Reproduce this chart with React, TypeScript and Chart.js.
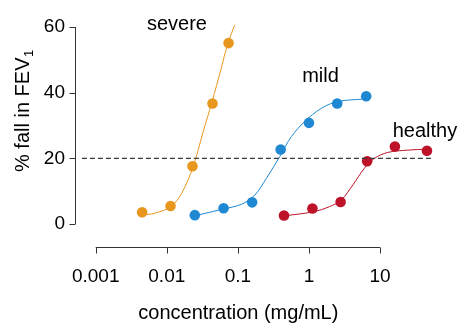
import React, { useEffect, useRef } from "react";
import { Chart, registerables } from "chart.js";

Chart.register(...registerables);

// ---- data ----
const xTicks = [0.001, 0.01, 0.1, 1, 10];
const yTicks = [0, 20, 40, 60];

const severeX = [0.0045, 0.0113, 0.023, 0.044, 0.074];
const severeY = [3.6, 5.5, 17.6, 36.7, 55.1];
const severeCurveX = [0.0045, 0.0068, 0.0114, 0.0161, 0.0235, 0.0324, 0.0434, 0.0575, 0.0728, 0.0904];
const severeCurveY = [2.7, 3.3, 5.3, 9.3, 17.5, 28.0, 37.3, 46.9, 55.2, 60.6];

const mildX = [0.0248, 0.063, 0.159, 0.4, 1.0, 2.5, 6.4];
const mildY = [2.7, 4.8, 6.6, 22.7, 30.8, 36.7, 38.9];
const mildCurveX = [0.0248, 0.0634, 0.112, 0.173, 0.252, 0.388, 0.566, 0.871, 1.49, 2.55, 6.4];
const mildCurveY = [2.5, 4.6, 6.0, 8.8, 13.9, 20.5, 26.6, 31.2, 35.2, 37.3, 38.1];

const healthyX = [0.446, 1.12, 2.79, 6.6, 16.2, 45.8];
const healthyY = [2.6, 4.7, 6.7, 19.1, 23.6, 22.3];
const healthyCurveX = [0.456, 1.14, 1.95, 2.85, 4.15, 6.05, 8.37, 12.9, 24.6, 46];
const healthyCurveY = [2.5, 3.7, 5.3, 7.3, 11.9, 17.0, 20.0, 21.8, 22.5, 22.8];

const thresholdX = [0.00064, 52];
const thresholdY = [20, 20];

const groupLabels = ["severe", "mild", "healthy"];
const groupLabelX = [0.0139, 1.455, 42.96];
const groupLabelY = [59.1, 43.3, 26.5];

const xTitle = "concentration (mg/mL)";
const yTitleMain = "% fall in FEV";
const yTitleSub = "1";

const ORANGE = "#E8971E";
const BLUE = "#1F88D3";
const RED = "#BD1228";
const FONT = "'Liberation Sans', Arial, Helvetica, sans-serif";

const zip = (xs: number[], ys: number[]) => xs.map((x, i) => ({ x, y: ys[i] }));

const axesPlugin = {
  id: "rAxes",
  afterDraw(chart: any) {
    const { ctx, chartArea, scales } = chart;
    const xs = scales.x;
    const ys = scales.y;
    ctx.save();
    ctx.strokeStyle = "#333";
    ctx.lineWidth = 1;
    // y axis
    const ax = Math.round(chartArea.left) + 0.5;
    const y0 = ys.getPixelForValue(yTicks[0]);
    const y1 = ys.getPixelForValue(yTicks[yTicks.length - 1]);
    ctx.beginPath();
    ctx.moveTo(ax, y0);
    ctx.lineTo(ax, y1);
    yTicks.forEach((v) => {
      const p = Math.round(ys.getPixelForValue(v)) + 0.5;
      ctx.moveTo(ax, p);
      ctx.lineTo(ax - 6, p);
    });
    // x axis
    const ay = Math.round(chartArea.bottom) + 0.5;
    const x0 = xs.getPixelForValue(xTicks[0]);
    const x1 = xs.getPixelForValue(xTicks[xTicks.length - 1]);
    ctx.moveTo(x0, ay);
    ctx.lineTo(x1, ay);
    xTicks.forEach((v) => {
      const p = Math.round(xs.getPixelForValue(v)) + 0.5;
      ctx.moveTo(p, ay);
      ctx.lineTo(p, ay + 6);
    });
    ctx.stroke();

    // group labels
    ctx.fillStyle = "#000";
    ctx.font = `20px ${FONT}`;
    ctx.textAlign = "center";
    ctx.textBaseline = "alphabetic";
    groupLabels.forEach((t, i) => {
      ctx.fillText(t, xs.getPixelForValue(groupLabelX[i]), ys.getPixelForValue(groupLabelY[i]));
    });

    // x title
    ctx.fillText(xTitle, (x0 + x1) / 2 + 0.5, 319);

    // y title with subscript
    ctx.save();
    ctx.translate(29, 172);
    ctx.rotate(-Math.PI / 2);
    ctx.textAlign = "left";
    ctx.font = `20px ${FONT}`;
    ctx.fillText(yTitleMain, 0, 0);
    const w = ctx.measureText(yTitleMain).width;
    ctx.font = `13px ${FONT}`;
    ctx.fillText(yTitleSub, w + 0.5, 4);
    ctx.restore();

    ctx.restore();
  },
};

export default function App() {
  const ref = useRef<HTMLCanvasElement | null>(null);

  useEffect(() => {
    document.body.style.margin = "0";
    if (!ref.current) return;
    const curve = (xs: number[], ys: number[], color: string) => ({
      type: "line" as const,
      data: zip(xs, ys),
      borderColor: color,
      borderWidth: 1,
      pointRadius: 0,
      fill: false,
      tension: 0.35,
      showLine: true,
    });
    const pts = (xs: number[], ys: number[], color: string) => ({
      type: "scatter" as const,
      data: zip(xs, ys),
      backgroundColor: color,
      borderColor: color,
      borderWidth: 0,
      pointRadius: 5.3,
      showLine: false,
    });
    const chart = new Chart(ref.current, {
      type: "scatter",
      data: {
        datasets: [
          {
            type: "line",
            data: zip(thresholdX, thresholdY),
            borderColor: "#3a3a3a",
            borderWidth: 1.2,
            borderDash: [5, 3],
            pointRadius: 0,
            fill: false,
          } as any,
          curve(severeCurveX, severeCurveY, ORANGE),
          curve(mildCurveX, mildCurveY, BLUE),
          curve(healthyCurveX, healthyCurveY, RED),
          pts(severeX, severeY, ORANGE),
          pts(mildX, mildY, BLUE),
          pts(healthyX, healthyY, RED),
        ] as any,
      },
      options: {
        animation: false,
        responsive: false,
        maintainAspectRatio: false,
        layout: { padding: { top: 10, right: 18, left: 0, bottom: 0 } },
        plugins: { legend: { display: false }, tooltip: { enabled: false } },
        scales: {
          x: {
            type: "logarithmic",
            min: 0.0005113,
            max: 69.87,
            grid: { display: false, drawTicks: false },
            border: { display: false },
            afterBuildTicks: (s: any) => {
              s.ticks = xTicks.map((v) => ({ value: v }));
            },
            afterFit: (s: any) => {
              s.height = 77;
              s.paddingLeft = 0;
              s.paddingRight = 0;
            },
            ticks: {
              autoSkip: false,
              maxRotation: 0,
              padding: 18,
              color: "#000",
              font: { family: FONT, size: 19 },
              callback: (v: any) => String(v),
            },
          },
          y: {
            type: "linear",
            min: -7.005,
            max: 65.178,
            grid: { display: false, drawTicks: false },
            border: { display: false },
            afterBuildTicks: (s: any) => {
              s.ticks = yTicks.map((v) => ({ value: v }));
            },
            afterFit: (s: any) => {
              s.width = 75;
              s.paddingTop = 0;
              s.paddingBottom = 0;
            },
            ticks: {
              padding: 10,
              color: "#000",
              font: { family: FONT, size: 19 },
              callback: (v: any) => String(v),
            },
          },
        },
      } as any,
      plugins: [axesPlugin],
    });
    return () => chart.destroy();
  }, []);

  return (
    <div style={{ width: 458, height: 324 }}>
      <canvas ref={ref} width={458} height={324} />
    </div>
  );
}
